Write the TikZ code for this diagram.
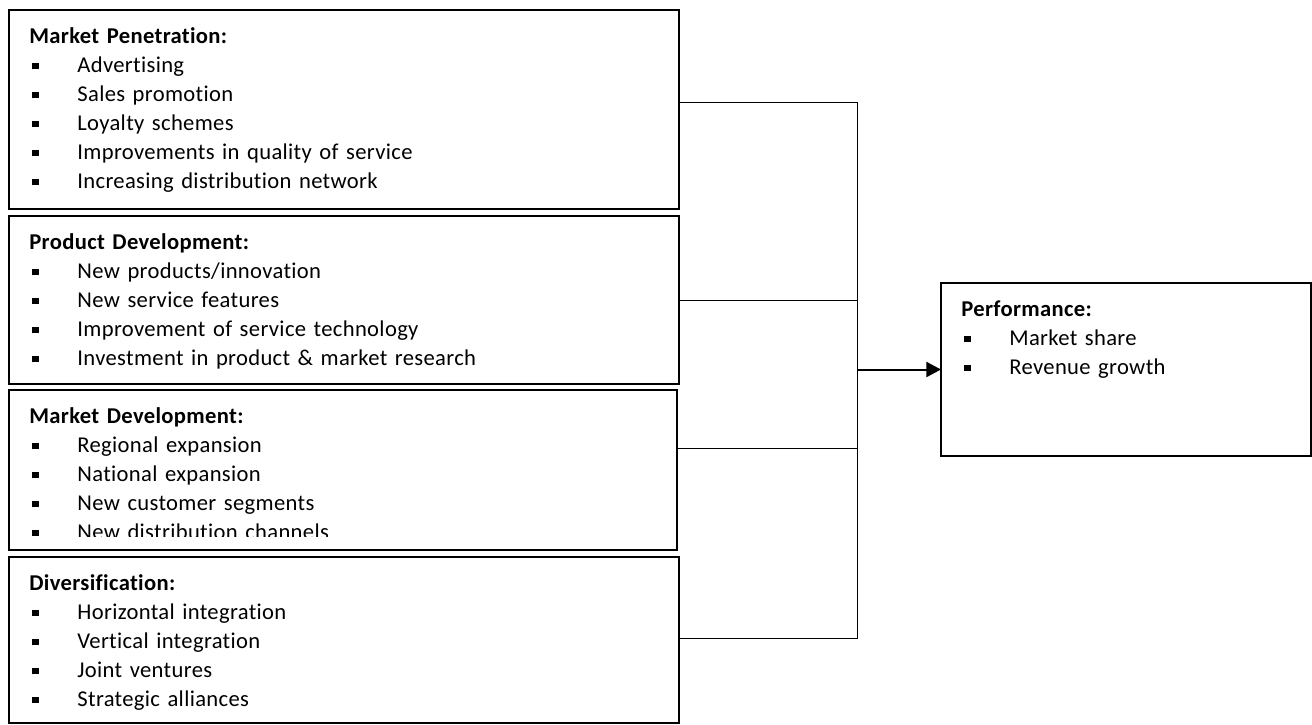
\documentclass[tikz,border=0pt]{standalone}
\usepackage{fontspec}
\setmainfont{Carlito}[Ligatures=NoCommon, LetterSpace=1.5]
\usetikzlibrary{positioning, arrows.meta}

\newcommand{\listfont}{\fontsize{11.3}{14.5}\selectfont}
\newcommand{\itm}{\makebox[24pt][l]{\hspace{1.5pt}\rule[1.5pt]{3.1pt}{3.1pt}}}

\tikzset{
    block/.style={draw, line width=0.8pt, minimum width=335pt, inner sep=0pt, outer sep=0pt},
    items/.style={inner sep=0pt, text width=310pt, align=left, font=\listfont},
    link/.style={line width=0.5pt},
    flow/.style={line width=1pt, -{Triangle[length=7.3pt, width=7.5pt]}}
}

\begin{document}
\begin{tikzpicture}[x=1pt, y=1pt]
    \useasboundingbox (0,0) rectangle (656,-362);

    % Strategy boxes on the left
    \node[block, minimum height=99.5pt, anchor=north west] (mp) at (4.5,-5) {};
    \node[block, minimum height=84pt, below=3.5pt of mp.south west, anchor=north west] (pd) {};
    \node[block, minimum height=80pt, minimum width=334pt, below=3pt of pd.south west, anchor=north west] (md) {};
    \node[block, minimum height=83pt, below=3.5pt of md.south west, anchor=north west] (dv) {};

    % Outcome box
    \node[block, minimum width=185pt, minimum height=86.5pt, anchor=north west] (perf) at (470.5,-141.5) {};

    % Box contents
    \node[items, below right=6.3pt and 10pt of mp.north west] (mp-list) {\textbf{Market Penetration:}\strut\\
        \itm Advertising\\
        \itm Sales promotion\\
        \itm Loyalty schemes\\
        \itm Improvements in quality of service\\
        \itm Increasing distribution network};
    \node[items, below right=6.3pt and 10pt of pd.north west] (pd-list) {\textbf{Product Development:}\strut\\
        \itm New products/innovation\\
        \itm New service features\\
        \itm Improvement of service technology\\
        \itm Investment in product \& market research};
    \begin{scope}
        \clip (md.north west) rectangle ([yshift=7pt]md.south east);
        \node[items, below right=6.3pt and 10pt of md.north west] (md-list) {\textbf{Market Development:}\strut\\
            \itm Regional expansion\\
            \itm National expansion\\
            \itm New customer segments\\
            \itm New distribution channels};
    \end{scope}
    \node[items, below right=6.3pt and 10pt of dv.north west] (dv-list) {\textbf{Diversification:}\strut\\
        \itm Horizontal integration\\
        \itm Vertical integration\\
        \itm Joint ventures\\
        \itm Strategic alliances};
    \node[items, text width=160pt, below right=6.3pt and 10pt of perf.north west] (perf-list) {\textbf{Performance:}\strut\\
        \itm Market share\\
        \itm Revenue growth};

    % Connectors
    \coordinate (jtop) at (428.5,-51);
    \coordinate (jbot) at (428.5,-319);
    \draw[link] (mp.east |- jtop) -- (jtop) -- (jbot) -- (dv.east |- jbot);
    \draw[link] (pd.east) -- (pd.east -| jtop);
    \draw[link] ([yshift=11pt]md.east) -- ([yshift=11pt]md.east -| jtop);
    \draw[flow] (perf.west -| jtop) -- (perf.west);
\end{tikzpicture}
\end{document}
